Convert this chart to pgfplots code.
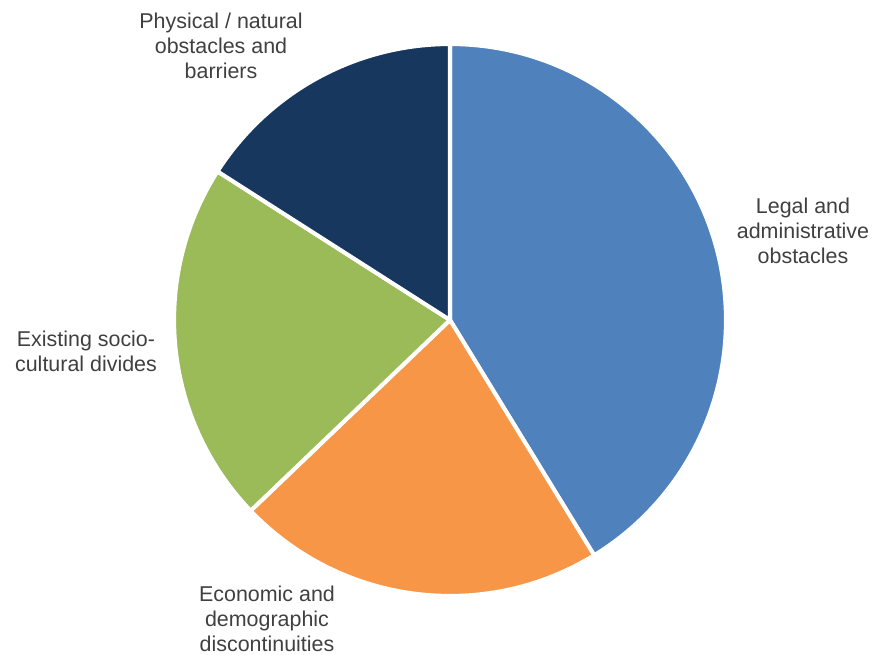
\documentclass[border=0pt]{standalone}
\usepackage{pgfplots}
\pgfplotsset{compat=1.18}
\usepackage{fontspec}
\setmainfont{Liberation Sans}
\definecolor{cLegal}{HTML}{4F81BD}
\definecolor{cEcon}{HTML}{F79646}
\definecolor{cExist}{HTML}{9BBB59}
\definecolor{cPhys}{HTML}{17375E}
\definecolor{txt}{HTML}{404040}
\begin{document}
\begin{tikzpicture}
% shares in percent
\def\vLegal{41.25}
\def\vEcon{21.6}
\def\vExist{21.2}
\def\vPhys{15.95}
\pgfmathsetmacro\aA{90}
\pgfmathsetmacro\aB{\aA-3.6*\vLegal}
\pgfmathsetmacro\aC{\aB-3.6*\vEcon}
\pgfmathsetmacro\aD{\aC-3.6*\vExist}
\pgfmathsetmacro\aE{\aD-3.6*\vPhys}
\def\R{5.52cm}
\begin{axis}[x=0.02cm,y=0.02cm,xmin=0,xmax=872,ymin=0,ymax=654,hide axis,clip=false]
\path (rel axis cs:0,0) rectangle (rel axis cs:1,1);
\filldraw[fill=cLegal,draw=white,line width=2.3pt,line join=round] (axis cs:450,334) -- ++(\aA:\R) arc[start angle=\aA,end angle=\aB,radius=\R] -- cycle;
\filldraw[fill=cEcon,draw=white,line width=2.3pt,line join=round] (axis cs:450,334) -- ++(\aB:\R) arc[start angle=\aB,end angle=\aC,radius=\R] -- cycle;
\filldraw[fill=cExist,draw=white,line width=2.3pt,line join=round] (axis cs:450,334) -- ++(\aC:\R) arc[start angle=\aC,end angle=\aD,radius=\R] -- cycle;
\filldraw[fill=cPhys,draw=white,line width=2.3pt,line join=round] (axis cs:450,334) -- ++(\aD:\R) arc[start angle=\aD,end angle=\aE,radius=\R] -- cycle;
\tikzset{lab/.style={align=center,text=txt,font=\fontsize{12.2}{14.2}\selectfont,inner sep=0pt}}
\node[lab] at (axis cs:803,423) {Legal and\\administrative\\obstacles};
\node[lab] at (axis cs:86,303) {Existing socio-\\cultural divides};
\node[lab] at (axis cs:221,608) {Physical / natural\\obstacles and\\barriers};
\node[lab] at (axis cs:267,35) {Economic and\\demographic\\discontinuities};
\end{axis}
\end{tikzpicture}
\end{document}
